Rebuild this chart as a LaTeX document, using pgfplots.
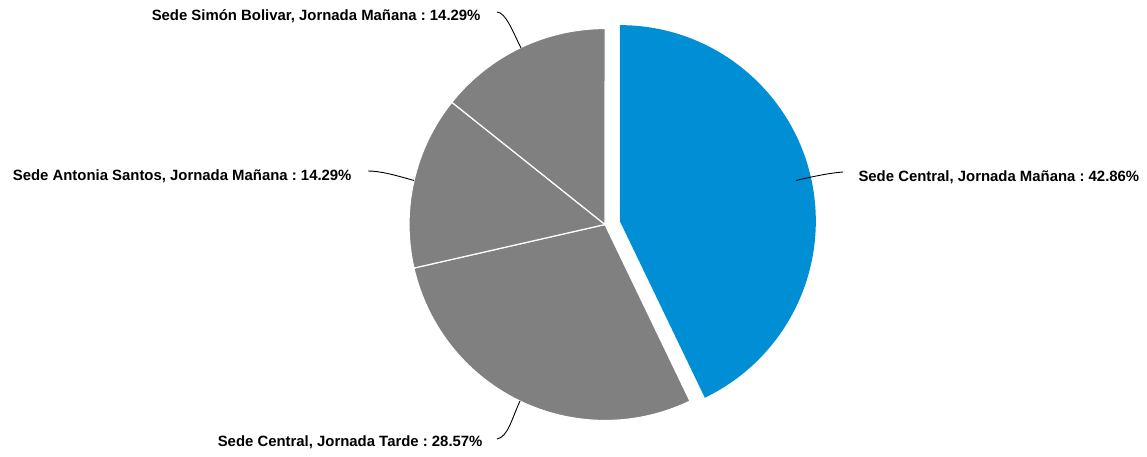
\documentclass[border=0pt]{standalone}
\usepackage{pgfplots}
\pgfplotsset{compat=1.18}
\usepackage{pgfplotstable}
\usepackage{fontspec}
\setmainfont{Liberation Sans}
\frenchspacing
\definecolor{sliceblue}{RGB}{0,143,213}
\definecolor{slicegray}{RGB}{128,128,128}
\pgfplotstableread{
value
42.86
28.57
14.29
14.29
}\piedata
\begin{document}
\begin{tikzpicture}[lbl/.style={font=\bfseries\fontsize{14.9}{18}\selectfont, inner sep=0pt}]
\pgfplotstablegetelem{0}{value}\of\piedata \let\va\pgfplotsretval
\pgfplotstablegetelem{1}{value}\of\piedata \let\vb\pgfplotsretval
\pgfplotstablegetelem{2}{value}\of\piedata \let\vc\pgfplotsretval
\pgfplotstablegetelem{3}{value}\of\piedata \let\vd\pgfplotsretval
\pgfmathsetmacro\aa{90}
\pgfmathsetmacro\ab{\aa-3.6*\va}
\pgfmathsetmacro\ac{\ab-3.6*\vb}
\pgfmathsetmacro\ad{\ac-3.6*\vc}
\pgfmathsetmacro\ae{\ad-3.6*\vd}
\pgfmathsetmacro\am{(\aa+\ab)/2}
\pgfmathsetmacro\bx{605+15.2*cos(\am)}
\pgfmathsetmacro\by{224.5-15.2*sin(\am)}
\begin{axis}[
  scale only axis, width=1147pt, height=457pt,
  xmin=0, xmax=1147, ymin=0, ymax=457, y dir=reverse,
  hide axis, clip=false,
]
\path (axis cs:0,0) rectangle (axis cs:1147,457);
% slices
\fill[sliceblue] (axis cs:\bx,\by) -- ++(\aa:196pt) arc[start angle=\aa, end angle=\ab, radius=196pt] -- cycle;
\filldraw[fill=slicegray, draw=white, line width=1.2pt] (axis cs:605,224.5) -- ++(\ab:196pt) arc[start angle=\ab, end angle=\ac, radius=196pt] -- cycle;
\filldraw[fill=slicegray, draw=white, line width=1.2pt] (axis cs:605,224.5) -- ++(\ac:196pt) arc[start angle=\ac, end angle=\ad, radius=196pt] -- cycle;
\filldraw[fill=slicegray, draw=white, line width=1.2pt] (axis cs:605,224.5) -- ++(\ad:196pt) arc[start angle=\ad, end angle=\ae, radius=196pt] -- cycle;
% leader lines
\draw[black, line width=0.9pt] (axis cs:796,180.5) .. controls (axis cs:815,176) and (axis cs:830,173) .. (axis cs:843,172);
\draw[black, line width=0.9pt] (axis cs:520,401) .. controls (axis cs:512,418) and (axis cs:508,437) .. (axis cs:497,439);
\draw[black, line width=0.9pt] (axis cs:414,180.5) .. controls (axis cs:395,175) and (axis cs:380,171) .. (axis cs:368,171);
\draw[black, line width=0.9pt] (axis cs:521,48) .. controls (axis cs:512,30) and (axis cs:506,13) .. (axis cs:497,12);
% labels
\node[lbl, anchor=base west] at (axis cs:858.3,181.5) {Sede Central, Jornada Mañana : 42.86\%};
\node[lbl, anchor=base east] at (axis cs:482.7,446.5) {Sede Central, Jornada Tarde : 28.57\%};
\node[lbl, anchor=base east] at (axis cs:351.7,181) {Sede Antonia Santos, Jornada Mañana : 14.29\%};
\node[lbl, anchor=base east] at (axis cs:480.7,21) {Sede Simón Bolivar, Jornada Mañana : 14.29\%};
\end{axis}
\end{tikzpicture}
\end{document}
